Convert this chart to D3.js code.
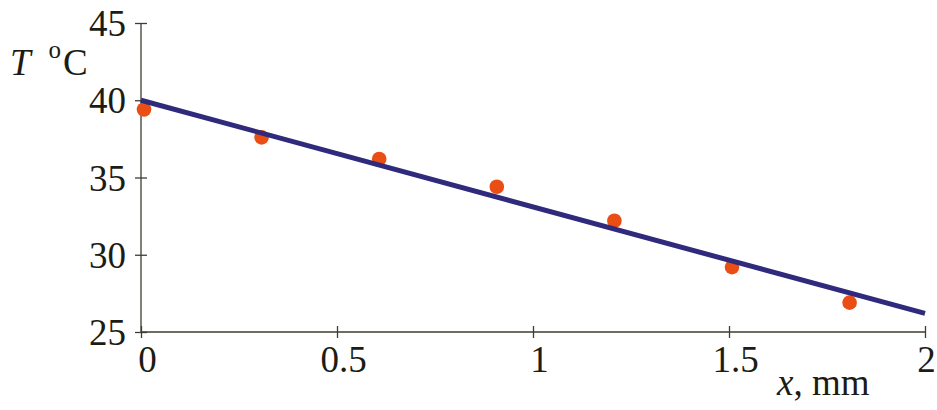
<!DOCTYPE html>
<html>
<head>
<meta charset="utf-8">
<script src="https://cdn.jsdelivr.net/npm/d3@7"></script>
<style>
  html, body { margin: 0; padding: 0; background: #fff; }
  svg { display: block; }
</style>
</head>
<body>
<svg id="chart" width="937" height="410"></svg>
<script>
// Measured temperatures along the sample
const xMeasured = [0, 0.3, 0.6, 0.9, 1.2, 1.5, 1.8];
const tMeasured = [39.4, 37.6, 36.2, 34.4, 32.2, 29.2, 26.9];

// Linear fit endpoints
const xFit = [0, 2];
const tFit = [40, 26.2];

// Axis tick values and labels
const xTicks = [0, 0.5, 1, 1.5, 2];
const xTickLabels = ["0", "0.5", "1", "1.5", "2"];
const yTicks = [25, 30, 35, 40, 45];
const yTickLabels = ["25", "30", "35", "40", "45"];

const svg = d3.select("#chart");
const plotLeft = 141, plotRight = 925, plotTop = 23, plotBottom = 332;
const font = "'Liberation Serif', 'Times New Roman', serif";
const axisColor = "#3d3d33";
const textColor = "#1c1c12";

const x = d3.scaleLinear().domain([0, 2]).range([plotLeft, plotRight]);
const y = d3.scaleLinear().domain([25, 45]).range([plotBottom, plotTop]);

// Y axis with ticks crossing the axis line
const yAxis = svg.append("g")
  .attr("transform", `translate(${plotLeft},0)`)
  .call(d3.axisLeft(y).tickValues(yTicks).tickFormat((d, i) => yTickLabels[i]).tickSize(6).tickPadding(9));
yAxis.select(".domain").attr("d", `M0,${plotTop}V${plotBottom}`).attr("stroke", axisColor).attr("stroke-width", 1.3);
yAxis.selectAll(".tick line").attr("x1", -6).attr("x2", 6).attr("stroke", axisColor).attr("stroke-width", 1.3);
yAxis.selectAll(".tick text")
  .attr("font-family", font).attr("font-size", 37).attr("fill", textColor)
  .attr("dy", "0.34em");

// X axis with ticks crossing the axis line
const xAxis = svg.append("g")
  .attr("transform", `translate(0,${plotBottom})`)
  .call(d3.axisBottom(x).tickValues(xTicks).tickFormat((d, i) => xTickLabels[i]).tickSize(6).tickPadding(0));
xAxis.select(".domain").attr("d", `M${plotLeft},0H${plotRight}`).attr("stroke", axisColor).attr("stroke-width", 1.3);
xAxis.selectAll(".tick line").attr("y1", -6).attr("y2", 6).attr("stroke", axisColor).attr("stroke-width", 1.3);
xAxis.selectAll(".tick text")
  .attr("font-family", font).attr("font-size", 37).attr("fill", textColor)
  .attr("y", 40).attr("dy", 0)
  .attr("dx", (d, i) => (i === xTicks.length - 1 ? 1 : 6));

// Axis titles
const yTitle = svg.append("text")
  .attr("font-family", font).attr("font-size", 37).attr("fill", textColor)
  .attr("x", 10).attr("y", 75);
yTitle.append("tspan").attr("font-style", "italic").text("T");
yTitle.append("tspan").attr("dx", 18).attr("dy", -17).attr("font-size", 25).text("o");
yTitle.append("tspan").attr("dx", 2).attr("dy", 17).text("C");

const xTitle = svg.append("text")
  .attr("font-family", font).attr("font-size", 37).attr("fill", textColor)
  .attr("x", 777).attr("y", 395);
xTitle.append("tspan").attr("font-style", "italic").text("x");
xTitle.append("tspan").text(", mm");

// Measured points
svg.append("g").selectAll("circle")
  .data(xMeasured)
  .join("circle")
  .attr("cx", (d) => x(d) + 3)
  .attr("cy", (d, i) => y(tMeasured[i]))
  .attr("r", 7.3)
  .attr("fill", "#ea4e14");

// Fitted line
svg.append("path")
  .datum(xFit.map((d, i) => [d, tFit[i]]))
  .attr("d", d3.line().x((d) => x(d[0])).y((d) => y(d[1])))
  .attr("fill", "none")
  .attr("stroke", "#2f2a7c")
  .attr("stroke-width", 5);
</script>
</body>
</html>
